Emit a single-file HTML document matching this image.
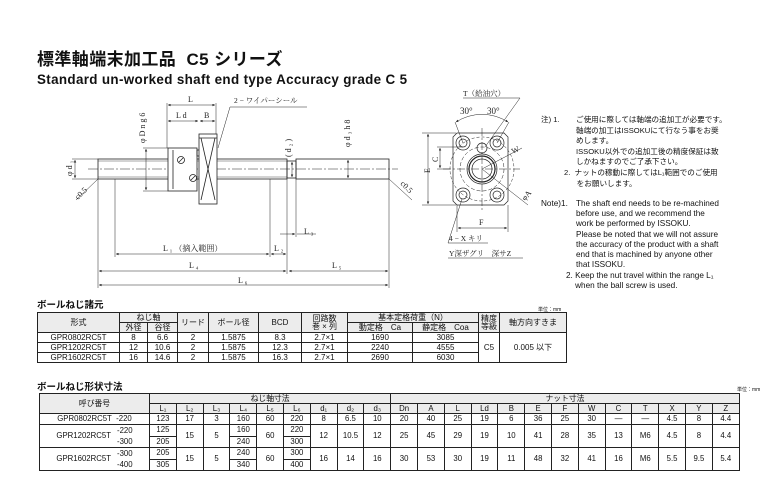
<!DOCTYPE html>
<html><head><meta charset="utf-8">
<style>
*{margin:0;padding:0;box-sizing:border-box}
body{width:761px;height:481px;background:#fff;position:relative;overflow:hidden;font-family:"Liberation Sans","Noto Sans CJK JP",sans-serif;color:#111}
.abs{position:absolute;white-space:nowrap}
table{position:absolute;border-collapse:collapse;table-layout:fixed;font-size:8px;line-height:1}
td{border:1px solid #222;text-align:center;padding:0;overflow:hidden;white-space:nowrap}
.h td{background:#ececec}
.note{font-size:7.6px;line-height:10.6px}
.en{font-size:8.2px;line-height:10.2px}
</style></head><body>
<div class="abs" style="left:37px;top:50px;font-size:17px;line-height:20px;font-weight:bold;letter-spacing:0.4px">標準軸端末加工品&nbsp; C5 シリーズ</div>
<div class="abs" style="left:37px;top:73px;font-size:13.4px;line-height:14px;font-weight:bold;letter-spacing:0.35px">Standard un-worked shaft end type Accuracy grade C 5</div>

<svg class="abs" style="left:0;top:0" width="761" height="300" viewBox="0 0 761 300" font-family="Liberation Serif,Noto Serif CJK SC,serif" font-size="8" fill="none" stroke="#222" stroke-width="0.8">
<defs><marker id="a" viewBox="0 0 6 6" refX="6" refY="3" markerWidth="5" markerHeight="5" orient="auto-start-reverse"><path d="M0,0L6,3L0,6z" fill="#222" stroke="none"/></marker></defs>
<line x1="88" y1="169" x2="398" y2="169" stroke-dasharray="10,2,2,2" stroke-width="0.5"/>
<rect x="98" y="159" width="189" height="20"/>
<line x1="98" y1="161" x2="287" y2="161" stroke-width="0.4"/>
<line x1="98" y1="177" x2="287" y2="177" stroke-width="0.4"/>
<rect x="287" y="161" width="9" height="17"/>
<rect x="296" y="159" width="93" height="20"/>
<rect x="168" y="148" width="29" height="43" fill="#fff"/>
<line x1="173" y1="150" x2="173" y2="189"/>
<circle cx="181" cy="160" r="3.5"/><line x1="179" y1="162" x2="183" y2="158"/>
<circle cx="193" cy="178" r="3.5"/><line x1="191" y1="180" x2="195" y2="176"/>
<rect x="197" y="150" width="3" height="6"/>
<rect x="199" y="134" width="18" height="70" fill="#fff"/>
<line x1="201" y1="138" x2="215" y2="200"/><line x1="215" y1="138" x2="201" y2="200"/>
<line x1="199" y1="138" x2="217" y2="138"/>
<line x1="167" y1="103" x2="167" y2="148" stroke-width="0.5"/>
<line x1="216" y1="103" x2="216" y2="134" stroke-width="0.5"/>
<line x1="168" y1="105" x2="215" y2="105" marker-start="url(#a)" marker-end="url(#a)" stroke-width="0.5"/>
<line x1="168" y1="121" x2="198" y2="121" marker-start="url(#a)" marker-end="url(#a)" stroke-width="0.5"/>
<line x1="200" y1="121" x2="215" y2="121" marker-start="url(#a)" marker-end="url(#a)" stroke-width="0.5"/>
<g fill="#222" stroke="none">
<text x="188" y="102">L</text><text x="176" y="118">L d</text><text x="204" y="118">B</text>
<text x="234" y="103" font-size="7.5">2 − ワイパーシール</text>
<text x="189" y="268">L ₄</text><text x="332" y="268">L ₅</text><text x="238" y="283">L ₆</text>
<text x="163" y="251">L ₁ （摘入範囲）</text><text x="274" y="251">L ₂</text><text x="304" y="234">L ₃</text>
<text transform="translate(145,143) rotate(-90)">φ D n g 6</text>
<text transform="translate(72,176) rotate(-90)">φ d ₁</text>
<text transform="translate(291,157) rotate(-90)">( d ₂ )</text>
<text transform="translate(350,147) rotate(-90)">φ d ₃ h 8</text>
<text transform="translate(430,173) rotate(-90)">E</text>
<text transform="translate(78,200) rotate(-45)">c0.5</text>
<text transform="translate(400,184) rotate(45)">c0.5</text>
</g>
<line x1="230" y1="107" x2="307" y2="107" stroke-width="0.5"/>
<line x1="230" y1="107" x2="218" y2="148" stroke-width="0.5"/>
<line x1="143" y1="148" x2="168" y2="148" stroke-width="0.5"/><line x1="143" y1="191" x2="168" y2="191" stroke-width="0.5"/>
<line x1="146" y1="149" x2="146" y2="190" marker-start="url(#a)" marker-end="url(#a)" stroke-width="0.5"/>
<line x1="72" y1="159" x2="98" y2="159" stroke-width="0.5"/><line x1="72" y1="179" x2="98" y2="179" stroke-width="0.5"/>
<line x1="75" y1="160" x2="75" y2="178" marker-start="url(#a)" marker-end="url(#a)" stroke-width="0.5"/>
<line x1="98" y1="179" x2="76" y2="200" stroke-width="0.5"/>
<line x1="389" y1="179" x2="412" y2="200" stroke-width="0.5"/>
<line x1="292" y1="162" x2="292" y2="177" marker-start="url(#a)" marker-end="url(#a)" stroke-width="0.5"/>
<line x1="348" y1="160" x2="348" y2="178" marker-start="url(#a)" marker-end="url(#a)" stroke-width="0.5"/>
<g stroke-width="0.5">
<line x1="98" y1="179" x2="98" y2="288"/><line x1="115" y1="179" x2="115" y2="257"/>
<line x1="270" y1="179" x2="270" y2="257"/><line x1="287" y1="179" x2="287" y2="274"/>
<line x1="296" y1="179" x2="296" y2="237"/><line x1="389" y1="179" x2="389" y2="288"/>
<line x1="116" y1="254" x2="269" y2="254" marker-start="url(#a)" marker-end="url(#a)"/>
<line x1="271" y1="254" x2="286" y2="254" marker-start="url(#a)" marker-end="url(#a)"/>
<line x1="280" y1="234" x2="295" y2="234" marker-end="url(#a)"/><line x1="297" y1="234" x2="316" y2="234"/>
<line x1="99" y1="271" x2="286" y2="271" marker-start="url(#a)" marker-end="url(#a)"/>
<line x1="289" y1="271" x2="388" y2="271" marker-start="url(#a)" marker-end="url(#a)"/>
<line x1="99" y1="285" x2="388" y2="285" marker-start="url(#a)" marker-end="url(#a)"/>
</g>
<g stroke-width="0.7">
<line x1="422" y1="133" x2="456" y2="133" stroke-width="0.5"/><line x1="422" y1="205" x2="456" y2="205" stroke-width="0.5"/>
<line x1="428" y1="134" x2="428" y2="204" marker-start="url(#a)" marker-end="url(#a)" stroke-width="0.5"/>
<path d="M457,133 H504 L508,137 V201 L504,205 H457 L453,201 V137 Z" fill="#fff"/>
<circle cx="482" cy="169" r="32" stroke-dasharray="3,2" stroke-width="0.5"/>
<circle cx="482" cy="169" r="22" stroke-dasharray="4,2" stroke-width="0.5"/>
<circle cx="482" cy="169" r="15"/><circle cx="482" cy="169" r="13" stroke-width="1.2"/><circle cx="482" cy="169" r="10"/>
<circle cx="463" cy="143" r="7"/><circle cx="463" cy="143" r="4"/>
<circle cx="497" cy="143" r="7"/><circle cx="497" cy="143" r="4"/>
<circle cx="463" cy="195" r="7"/><circle cx="463" cy="195" r="4"/>
<circle cx="497" cy="195" r="7"/><circle cx="497" cy="195" r="4"/>
<circle cx="482" cy="148" r="5"/>
</g>
<g stroke-width="0.5">
<line x1="443" y1="169" x2="520" y2="169" stroke-dasharray="8,2,2,2"/>
<line x1="482" y1="128" x2="482" y2="210" stroke-dasharray="8,2,2,2"/>
<path d="M456,122 A48,48 0 0 1 508,122" marker-start="url(#a)" marker-end="url(#a)"/>
<line x1="463" y1="143" x2="455" y2="122"/><line x1="497" y1="143" x2="509" y2="122"/>
<line x1="463" y1="98" x2="520" y2="98"/><line x1="520" y1="98" x2="485" y2="147"/>
<line x1="437" y1="147" x2="463" y2="147"/><line x1="437" y1="169" x2="450" y2="169"/>
<line x1="440" y1="148" x2="440" y2="168" marker-start="url(#a)" marker-end="url(#a)"/>
<line x1="457" y1="205" x2="457" y2="232"/><line x1="508" y1="205" x2="508" y2="232"/>
<line x1="458" y1="228" x2="507" y2="228" marker-start="url(#a)" marker-end="url(#a)"/>
<line x1="482" y1="169" x2="522" y2="148"/>
<line x1="482" y1="169" x2="528" y2="205"/>
<line x1="448" y1="243" x2="488" y2="243"/><line x1="448" y1="243" x2="462" y2="199"/>
<line x1="448" y1="258" x2="523" y2="258"/>
</g>
<g fill="#222" stroke="none">
<text x="463" y="96" font-size="7.5">T（給油穴）</text>
<text x="460" y="114" font-size="9">30°</text><text x="487" y="114" font-size="9">30°</text>
<text transform="translate(438,162) rotate(-90)">C</text>
<text x="479" y="225">F</text>
<text transform="translate(513,154) rotate(-25)">W</text>
<text transform="translate(525,201) rotate(-50)">φA</text>
<text x="449" y="241" font-size="7.5">4 − X キリ</text>
<text x="449" y="256" font-size="7.5">Y深ザグリ　深サZ</text>
</g>
</svg>

<div class="abs note" style="left:541px;top:115px">注) 1.</div>
<div class="abs note" style="left:576px;top:115px">ご使用に際しては軸端の追加工が必要です。<br>軸端の加工はISSOKUにて行なう事をお奨<br>めします。<br>ISSOKU以外での追加工後の精度保証は致<br>しかねますのでご了承下さい。</div>
<div class="abs note" style="left:564px;top:168px">2.&nbsp; ナットの稼動に際してはL₁範囲でのご使用<br>&nbsp;&nbsp;&nbsp;&nbsp;&nbsp; をお願いします。</div>
<div class="abs en" style="left:541px;top:199px">Note)1.</div>
<div class="abs en" style="left:576px;top:199px">The shaft end needs to be re-machined<br>before use, and we recommend the<br>work be performed by ISSOKU.<br>Please be noted that we will not assure<br>the accuracy of the product with a shaft<br>end that is machined by anyone other<br>that ISSOKU.</div>
<div class="abs en" style="left:566px;top:271px">2. Keep the nut travel within the range L₁<br>&nbsp;&nbsp;&nbsp; when the ball screw is used.</div>

<div class="abs" style="left:37px;top:297px;font-size:9.5px;font-weight:bold">ボールねじ諸元</div>
<div class="abs" style="left:538px;top:306px;font-size:5px">単位：mm</div>
<table style="left:37px;top:312px;width:529px">
<colgroup><col style="width:82px"><col style="width:28px"><col style="width:30px"><col style="width:31px"><col style="width:50px"><col style="width:43px"><col style="width:46px"><col style="width:65px"><col style="width:66px"><col style="width:21px"><col style="width:67px"></colgroup>
<tr class="h" style="height:10px"><td rowspan="2">形式</td><td colspan="2">ねじ軸</td><td rowspan="2">リード</td><td rowspan="2">ボール径</td><td rowspan="2">BCD</td><td rowspan="2">回路数<br>巻 × 列</td><td colspan="2">基本定格荷重（N）</td><td rowspan="2">精度<br>等級</td><td rowspan="2">軸方向すきま</td></tr>
<tr class="h" style="height:10px"><td>外径</td><td>谷径</td><td>動定格　Ca</td><td>静定格　Coa</td></tr>
<tr style="height:10px"><td>GPR0802RC5T</td><td>8</td><td>6.6</td><td>2</td><td>1.5875</td><td>8.3</td><td>2.7×1</td><td>1690</td><td>3085</td><td rowspan="3">C5</td><td rowspan="3">0.005 以下</td></tr>
<tr style="height:10px"><td>GPR1202RC5T</td><td>12</td><td>10.6</td><td>2</td><td>1.5875</td><td>12.3</td><td>2.7×1</td><td>2240</td><td>4555</td></tr>
<tr style="height:10px"><td>GPR1602RC5T</td><td>16</td><td>14.6</td><td>2</td><td>1.5875</td><td>16.3</td><td>2.7×1</td><td>2690</td><td>6030</td></tr>
</table>

<div class="abs" style="left:37px;top:379px;font-size:9.5px;font-weight:bold">ボールねじ形状寸法</div>
<div class="abs" style="left:737px;top:386px;font-size:5px">単位：mm</div>
<table style="left:39px;top:393px;width:700px;font-size:7.8px">
<colgroup><col style="width:110px"><col span="22" style="width:26.8px"></colgroup>
<tr class="h" style="height:10px"><td rowspan="2">呼び番号</td><td colspan="9">ねじ軸寸法</td><td colspan="13">ナット寸法</td></tr>
<tr class="h" style="height:10px"><td>L₁</td><td>L₂</td><td>L₃</td><td>L₄</td><td>L₅</td><td>L₆</td><td>d₁</td><td>d₂</td><td>d₃</td><td>Dn</td><td>A</td><td>L</td><td>Ld</td><td>B</td><td>E</td><td>F</td><td>W</td><td>C</td><td>T</td><td>X</td><td>Y</td><td>Z</td></tr>
<tr style="height:11px"><td>GPR0802RC5T&nbsp; -220</td><td>123</td><td>17</td><td>3</td><td>160</td><td>60</td><td>220</td><td>8</td><td>6.5</td><td>10</td><td>20</td><td>40</td><td>25</td><td>19</td><td>6</td><td>36</td><td>25</td><td>30</td><td>—</td><td>—</td><td>4.5</td><td>8</td><td>4.4</td></tr>
<tr style="height:11px"><td rowspan="2"><div style="display:flex;justify-content:center;align-items:center;gap:6px"><span>GPR1202RC5T</span><span style="line-height:11px">-220<br>-300</span></div></td><td>125</td><td rowspan="2">15</td><td rowspan="2">5</td><td>160</td><td rowspan="2">60</td><td>220</td><td rowspan="2">12</td><td rowspan="2">10.5</td><td rowspan="2">12</td><td rowspan="2">25</td><td rowspan="2">45</td><td rowspan="2">29</td><td rowspan="2">19</td><td rowspan="2">10</td><td rowspan="2">41</td><td rowspan="2">28</td><td rowspan="2">35</td><td rowspan="2">13</td><td rowspan="2">M6</td><td rowspan="2">4.5</td><td rowspan="2">8</td><td rowspan="2">4.4</td></tr>
<tr style="height:11px"><td>205</td><td>240</td><td>300</td></tr>
<tr style="height:11px"><td rowspan="2"><div style="display:flex;justify-content:center;align-items:center;gap:6px"><span>GPR1602RC5T</span><span style="line-height:11px">-300<br>-400</span></div></td><td>205</td><td rowspan="2">15</td><td rowspan="2">5</td><td>240</td><td rowspan="2">60</td><td>300</td><td rowspan="2">16</td><td rowspan="2">14</td><td rowspan="2">16</td><td rowspan="2">30</td><td rowspan="2">53</td><td rowspan="2">30</td><td rowspan="2">19</td><td rowspan="2">11</td><td rowspan="2">48</td><td rowspan="2">32</td><td rowspan="2">41</td><td rowspan="2">16</td><td rowspan="2">M6</td><td rowspan="2">5.5</td><td rowspan="2">9.5</td><td rowspan="2">5.4</td></tr>
<tr style="height:11px"><td>305</td><td>340</td><td>400</td></tr>
</table>
</body></html>
